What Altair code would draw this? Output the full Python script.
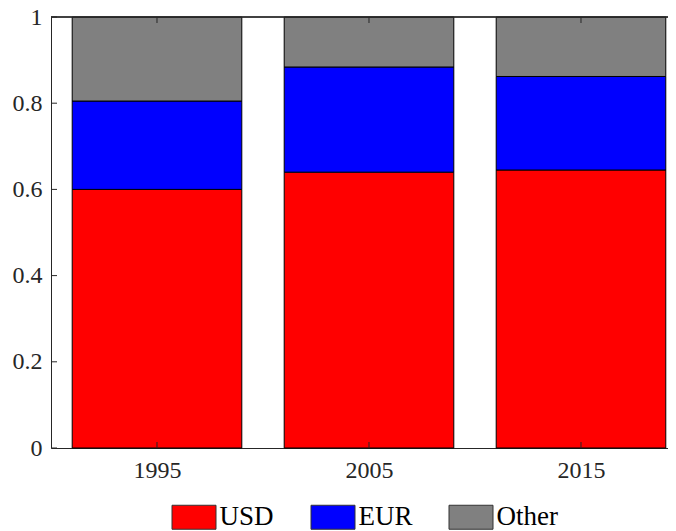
import json
import altair as alt
import pandas as pd

# ---- data ----
years = ["1995", "2005", "2015"]
series = ["USD", "EUR", "Other"]
usd = [0.600, 0.640, 0.645]
eur = [0.205, 0.244, 0.217]
other = [0.195, 0.116, 0.138]
colors = ["#ff0000", "#0000ff", "#808080"]
y_ticks = [0, 0.2, 0.4, 0.6, 0.8, 1]
x_pos = [1, 2, 3]

BAR_W = 0.8
W, H = 617, 431
AX = "#262626"
FONT = "Liberation Serif"

rows = []
for i, yr in enumerate(years):
    base = 0.0
    for k, (s, vals) in enumerate(zip(series, [usd, eur, other])):
        rows.append(dict(year=yr, pos=x_pos[i], series=s, order=k,
                         lo=base, hi=base + vals[i],
                         x0=x_pos[i] - BAR_W / 2, x1=x_pos[i] + BAR_W / 2))
        base += vals[i]
df = pd.DataFrame(rows)

xscale = alt.Scale(domain=[0.5, 3.4104], nice=False, zero=False)
yscale = alt.Scale(domain=[0, 1], nice=False)

label_expr = json.dumps(years) + "[datum.value - 1]"

legend_path = "M-1,-0.545L1,-0.545L1,0.545L-1,0.545Z"

bars = alt.Chart(df).mark_bar(stroke="black", strokeWidth=1, opacity=1).encode(
    x=alt.X("x0:Q", scale=xscale,
            axis=alt.Axis(values=x_pos, labelExpr=label_expr, title=None,
                          ticks=False, grid=False, domainColor=AX,
                          labelFont=FONT, labelFontSize=24, labelColor=AX,
                          labelPadding=10, labelFlush=False)),
    x2="x1:Q",
    y=alt.Y("lo:Q", scale=yscale,
            axis=alt.Axis(values=y_ticks, format="~g", title=None,
                          ticks=False, grid=False, domainColor=AX,
                          labelFont=FONT, labelFontSize=24, labelColor=AX,
                          labelPadding=9)),
    y2="hi:Q",
    color=alt.Color("series:N", sort=series,
                    scale=alt.Scale(domain=series, range=colors),
                    legend=alt.Legend(title=None, orient="none", direction="horizontal",
                                      legendX=120.5, legendY=477.5, padding=0,
                                      symbolType=legend_path, symbolSize=1936,
                                      symbolStrokeColor="#333333", symbolStrokeWidth=1,
                                      symbolOpacity=1,
                                      labelFont=FONT, labelFontSize=27, labelColor="black",
                                      labelOffset=3, columnPadding=34)),
    order="order:Q",
)

ytick_df = pd.DataFrame({"v": y_ticks})
xtick_df = pd.DataFrame({"p": x_pos})

yticks = alt.Chart(ytick_df).mark_rule(color=AX, strokeWidth=1).encode(
    y=alt.Y("v:Q", scale=yscale), x=alt.value(0), x2=alt.value(6))
xticks_bottom = alt.Chart(xtick_df).mark_rule(color=AX, strokeWidth=1).encode(
    x=alt.X("p:Q", scale=xscale), y=alt.value(H - 6), y2=alt.value(H))
xticks_top = alt.Chart(xtick_df).mark_rule(color=AX, strokeWidth=1).encode(
    x=alt.X("p:Q", scale=xscale), y=alt.value(0), y2=alt.value(6))
top_frame = alt.Chart(xtick_df).mark_rule(color=AX, strokeWidth=1).encode(
    x=alt.value(0), x2=alt.value(W), y=alt.value(0))

chart = alt.layer(bars, yticks, xticks_bottom, xticks_top, top_frame).properties(
    width=W, height=H,
    autosize=alt.AutoSizeParams(type="none"),
    padding={"left": 43, "top": 9, "right": 0, "bottom": 83},
).configure_view(stroke=None).configure_axis(domainWidth=1)

chart.save("out.html", embed_options={"renderer": "svg", "actions": False})
